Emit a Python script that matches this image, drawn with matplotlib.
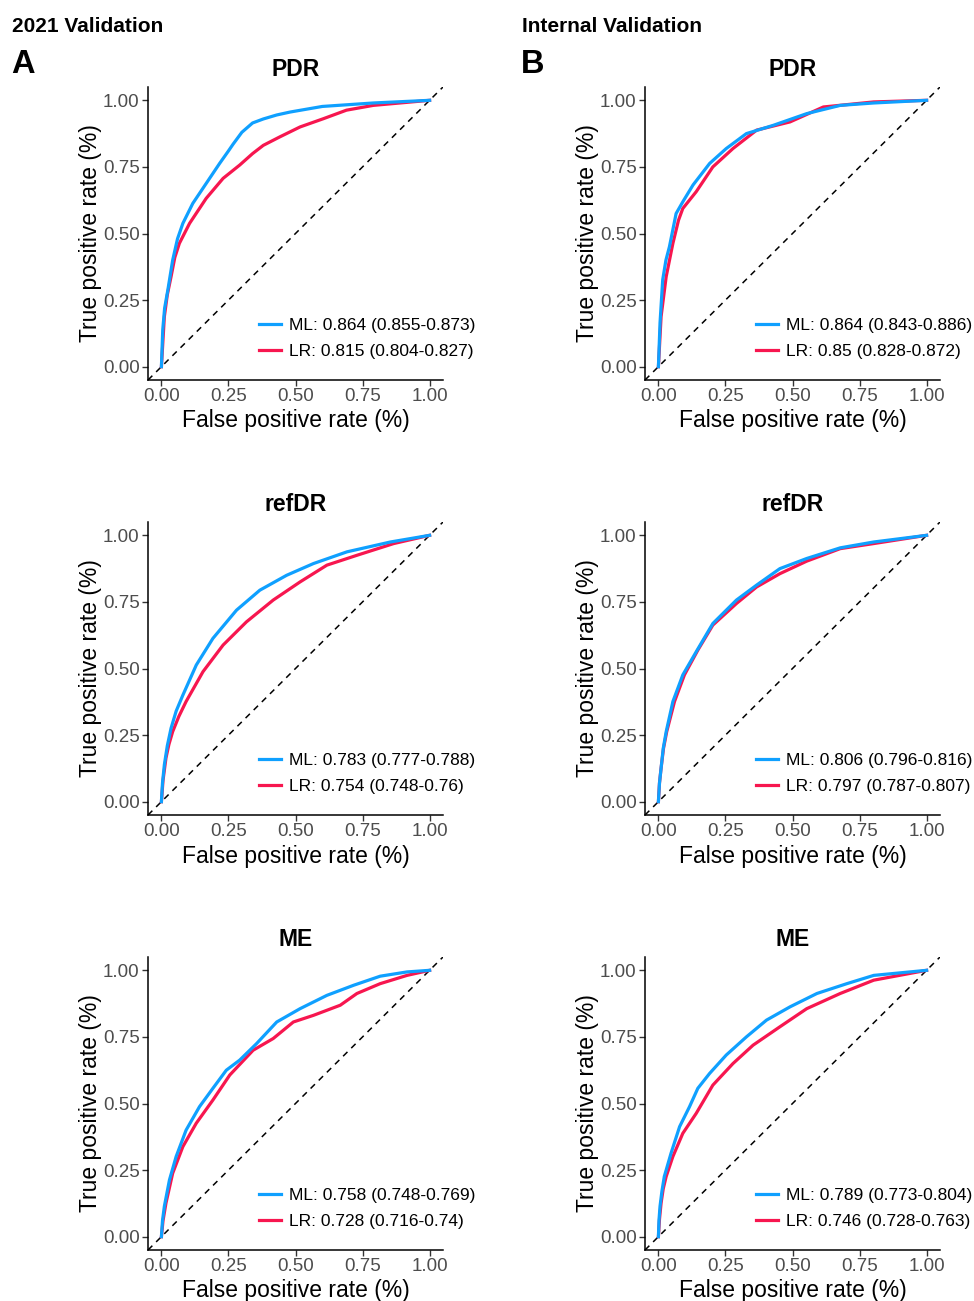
import matplotlib
matplotlib.use("Agg")
import matplotlib.pyplot as plt
import numpy as np

plt.rcParams['font.family'] = ['Liberation Sans', 'DejaVu Sans']

# ROC curves (fpr, tpr)
pdr_a_ml_fpr = [0, .005, .012, .024, .042, .06, .08, .117, .167, .217, .25, .267, .30, .34, .38, .43, .48, .60, .79, 1]
pdr_a_ml_tpr = [0, .139, .22, .288, .40, .48, .538, .613, .688, .763, .81, .835, .88, .915, .93, .945, .956, .977, .99, 1]
pdr_a_lr_fpr = [0, .011, .022, .036, .05, .067, .105, .167, .23, .292, .34, .38, .442, .517, .604, .69, .79, 1]
pdr_a_lr_tpr = [0, .188, .27, .338, .41, .463, .538, .632, .707, .757, .80, .831, .863, .90, .931, .963, .981, 1]

pdr_b_ml_fpr = [0, .006, .016, .028, .041, .066, .091, .129, .191, .253, .328, .428, .553, .678, .803, 1]
pdr_b_ml_tpr = [0, .164, .326, .40, .45, .575, .619, .682, .763, .819, .875, .906, .95, .981, .99, 1]
pdr_b_lr_fpr = [0, .01, .029, .054, .075, .091, .141, .203, .278, .366, .491, .615, .803, 1]
pdr_b_lr_tpr = [0, .188, .338, .463, .55, .594, .657, .75, .819, .888, .919, .975, .994, 1]

ref_a_ml_fpr = [0, .004, .011, .022, .036, .055, .08, .13, .192, .28, .367, .467, .567, .692, .854, 1]
ref_a_ml_tpr = [0, .07, .139, .21, .276, .34, .40, .513, .613, .719, .794, .85, .894, .938, .975, 1]
ref_a_lr_fpr = [0, .006, .017, .028, .042, .065, .092, .155, .23, .317, .417, .517, .617, .729, .866, 1]
ref_a_lr_tpr = [0, .08, .164, .215, .263, .32, .376, .488, .588, .675, .757, .825, .888, .925, .969, 1]

ref_b_ml_fpr = [0, .004, .01, .018, .029, .054, .091, .141, .203, .291, .366, .453, .553, .678, .803, 1]
ref_b_ml_tpr = [0, .07, .126, .20, .263, .376, .476, .563, .669, .757, .813, .875, .913, .953, .975, 1]
ref_b_lr_fpr = [0, .004, .01, .019, .031, .06, .097, .147, .203, .291, .366, .453, .553, .678, .803, 1]
ref_b_lr_tpr = [0, .07, .126, .20, .263, .376, .476, .569, .663, .744, .806, .856, .903, .95, .969, 1]

me_a_ml_fpr = [0, .004, .011, .03, .055, .092, .142, .192, .242, .292, .355, .43, .517, .617, .717, .816, .916, 1]
me_a_ml_tpr = [0, .06, .114, .213, .301, .40, .488, .557, .625, .663, .725, .806, .856, .906, .944, .978, .994, 1]
me_a_lr_fpr = [0, .006, .017, .042, .08, .13, .192, .255, .342, .417, .492, .567, .667, .729, .816, .916, 1]
me_a_lr_tpr = [0, .06, .126, .238, .338, .426, .513, .607, .70, .744, .806, .831, .869, .913, .95, .981, 1]

me_b_ml_fpr = [0, .002, .006, .013, .022, .047, .079, .116, .147, .191, .253, .328, .403, .491, .591, .703, .803, 1]
me_b_ml_tpr = [0, .06, .114, .17, .226, .313, .413, .488, .557, .613, .682, .75, .813, .863, .913, .95, .981, 1]
me_b_lr_fpr = [0, .004, .01, .018, .029, .054, .091, .141, .203, .278, .353, .453, .553, .678, .803, 1]
me_b_lr_tpr = [0, .065, .126, .18, .226, .301, .388, .463, .569, .65, .719, .788, .856, .913, .963, 1]

titles = ['PDR', 'refDR', 'ME']
col_headers = ['2021 Validation', 'Internal Validation']
col_letters = ['A', 'B']

panels = [
    [(pdr_a_ml_fpr, pdr_a_ml_tpr, pdr_a_lr_fpr, pdr_a_lr_tpr,
      'ML: 0.864 (0.855-0.873)', 'LR: 0.815 (0.804-0.827)'),
     (pdr_b_ml_fpr, pdr_b_ml_tpr, pdr_b_lr_fpr, pdr_b_lr_tpr,
      'ML: 0.864 (0.843-0.886)', 'LR: 0.85 (0.828-0.872)')],
    [(ref_a_ml_fpr, ref_a_ml_tpr, ref_a_lr_fpr, ref_a_lr_tpr,
      'ML: 0.783 (0.777-0.788)', 'LR: 0.754 (0.748-0.76)'),
     (ref_b_ml_fpr, ref_b_ml_tpr, ref_b_lr_fpr, ref_b_lr_tpr,
      'ML: 0.806 (0.796-0.816)', 'LR: 0.797 (0.787-0.807)')],
    [(me_a_ml_fpr, me_a_ml_tpr, me_a_lr_fpr, me_a_lr_tpr,
      'ML: 0.758 (0.748-0.769)', 'LR: 0.728 (0.716-0.74)'),
     (me_b_ml_fpr, me_b_ml_tpr, me_b_lr_fpr, me_b_lr_tpr,
      'ML: 0.789 (0.773-0.804)', 'LR: 0.746 (0.728-0.763)')],
]

blue = '#0FA0FF'
red = '#F7164F'

W, H = 974, 1301
fig = plt.figure(figsize=(W / 100, H / 100), dpi=100)

lefts = [148, 645]
tops = [87, 522, 957]
aw, ah = 295, 293

ticks = [0, 0.25, 0.5, 0.75, 1.0]
ticklabels = ['0.00', '0.25', '0.50', '0.75', '1.00']

for r in range(3):
    for c in range(2):
        ml_x, ml_y, lr_x, lr_y, ml_lab, lr_lab = panels[r][c]
        ax = fig.add_axes([lefts[c] / W, 1 - (tops[r] + ah) / H, aw / W, ah / H])
        ax.plot([-0.05, 1.05], [-0.05, 1.05], color='black', lw=1.1,
                linestyle=(0, (4, 3.5)), zorder=1)
        l1, = ax.plot(ml_x, ml_y, color=blue, lw=2.3, label=ml_lab, zorder=3,
                      solid_joinstyle='round')
        l2, = ax.plot(lr_x, lr_y, color=red, lw=2.3, label=lr_lab, zorder=2,
                      solid_joinstyle='round')
        ax.set_xlim(-0.05, 1.05)
        ax.set_ylim(-0.05, 1.05)
        ax.set_xticks(ticks)
        ax.set_xticklabels(ticklabels)
        ax.set_yticks(ticks)
        ax.set_yticklabels(ticklabels)
        ax.tick_params(labelsize=13.5, labelcolor='#4D4D4D', color='#333333',
                       length=4, width=1, pad=2)
        for s in ['top', 'right']:
            ax.spines[s].set_visible(False)
        for s in ['left', 'bottom']:
            ax.spines[s].set_linewidth(1.1)
        ax.set_xlabel('False positive rate (%)', fontsize=16.5, labelpad=3)
        ax.set_ylabel('True positive rate (%)', fontsize=16.5, labelpad=1)
        ax.set_title(titles[r], fontsize=16.5, fontweight='bold', pad=8)
        ax.legend(handles=[l1, l2], loc='center left', bbox_to_anchor=(0.375, 0.142),
                  frameon=False, fontsize=12.5, handlelength=1.3, handletextpad=0.45,
                  borderpad=0, labelspacing=0.62, borderaxespad=0)

for c in range(2):
    x0 = [12, 522][c]
    fig.text(x0 / W, 1 - 32 / H, col_headers[c], fontsize=15, fontweight='bold',
             ha='left', va='baseline')
    fig.text((x0 - 1) / W, 1 - 73 / H, col_letters[c], fontsize=23.5, fontweight='bold',
             ha='left', va='baseline')

fig.savefig('out.png', dpi=100)
